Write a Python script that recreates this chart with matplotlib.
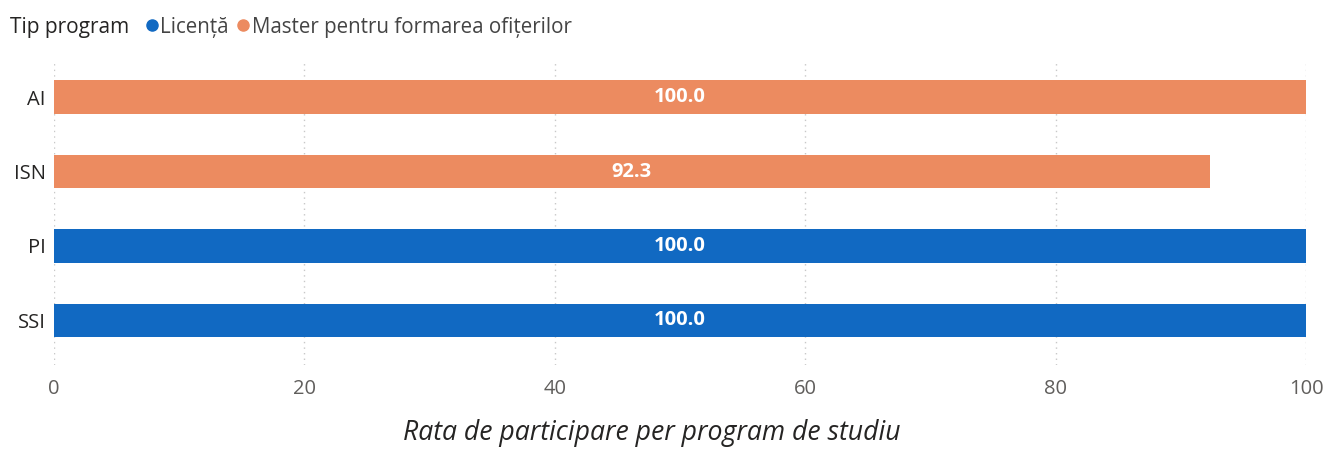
import matplotlib
matplotlib.use("Agg")
import matplotlib.pyplot as plt
from matplotlib.lines import Line2D

categories = ["AI", "ISN", "PI", "SSI"]
values = [100.0, 92.3, 100.0, 100.0]
program_type = ["Master pentru formarea ofițerilor", "Master pentru formarea ofițerilor", "Licență", "Licență"]
legend_order = ["Licență", "Master pentru formarea ofițerilor"]
colors = {"Licență": "#1169C2", "Master pentru formarea ofițerilor": "#EC8B60"}
xticks = [0, 20, 40, 60, 80, 100]

plt.rcParams['font.family'] = ['Open Sans', 'DejaVu Sans']

fig = plt.figure(figsize=(13.29, 4.5), dpi=100)
ax = fig.add_axes([54/1329, 1-365/450, (1306-54)/1329, (365-60)/450])

ypos = list(range(len(categories)))
bar_colors = [colors[p] for p in program_type]
bars = ax.barh(ypos, values, height=0.45, color=bar_colors, zorder=3)
for b, v in zip(bars, values):
    ax.text(v/2, b.get_y()+b.get_height()/2, f"{v:.1f}", ha="center", va="center",
            color="white", fontsize=14.5, fontweight="bold", zorder=4)

ax.set_yticks(ypos)
ax.set_yticklabels(categories, fontsize=14.5, color="#252423")
ax.set_ylim(3.6, -0.5)
ax.set_xlim(0, 100)
ax.set_xticks(xticks)
ax.set_xticklabels([str(t) for t in xticks], fontsize=14.5, color="#605E5C")
ax.tick_params(axis="both", length=0)
ax.tick_params(axis="x", pad=10)
ax.tick_params(axis="y", pad=6)
ax.grid(axis="x", linestyle=(0, (1, 3)), color="#C8C8C8", linewidth=1, zorder=0)
for s in ax.spines.values():
    s.set_visible(False)

fig.text(652/1329, 1-433/450, "Rata de participare per program de studiu", ha="center", va="center",
         fontsize=19.2, style="italic", color="#252423")

fig.text(10/1329, 1-27/450, "Tip program", ha="left", va="center", fontsize=15,
         fontweight="medium", color="#252423")
handles = [Line2D([0], [0], marker="o", linestyle="", markersize=8, color=colors[p]) for p in legend_order]
fig.legend(handles, legend_order, loc="center left", bbox_to_anchor=(146/1329, 1-27/450), ncol=2,
           frameon=False, fontsize=14.8, handletextpad=0.1, columnspacing=0.4, handlelength=0.6,
           borderpad=0, borderaxespad=0, labelcolor="#444444")

fig.savefig("out.png", dpi=100)
